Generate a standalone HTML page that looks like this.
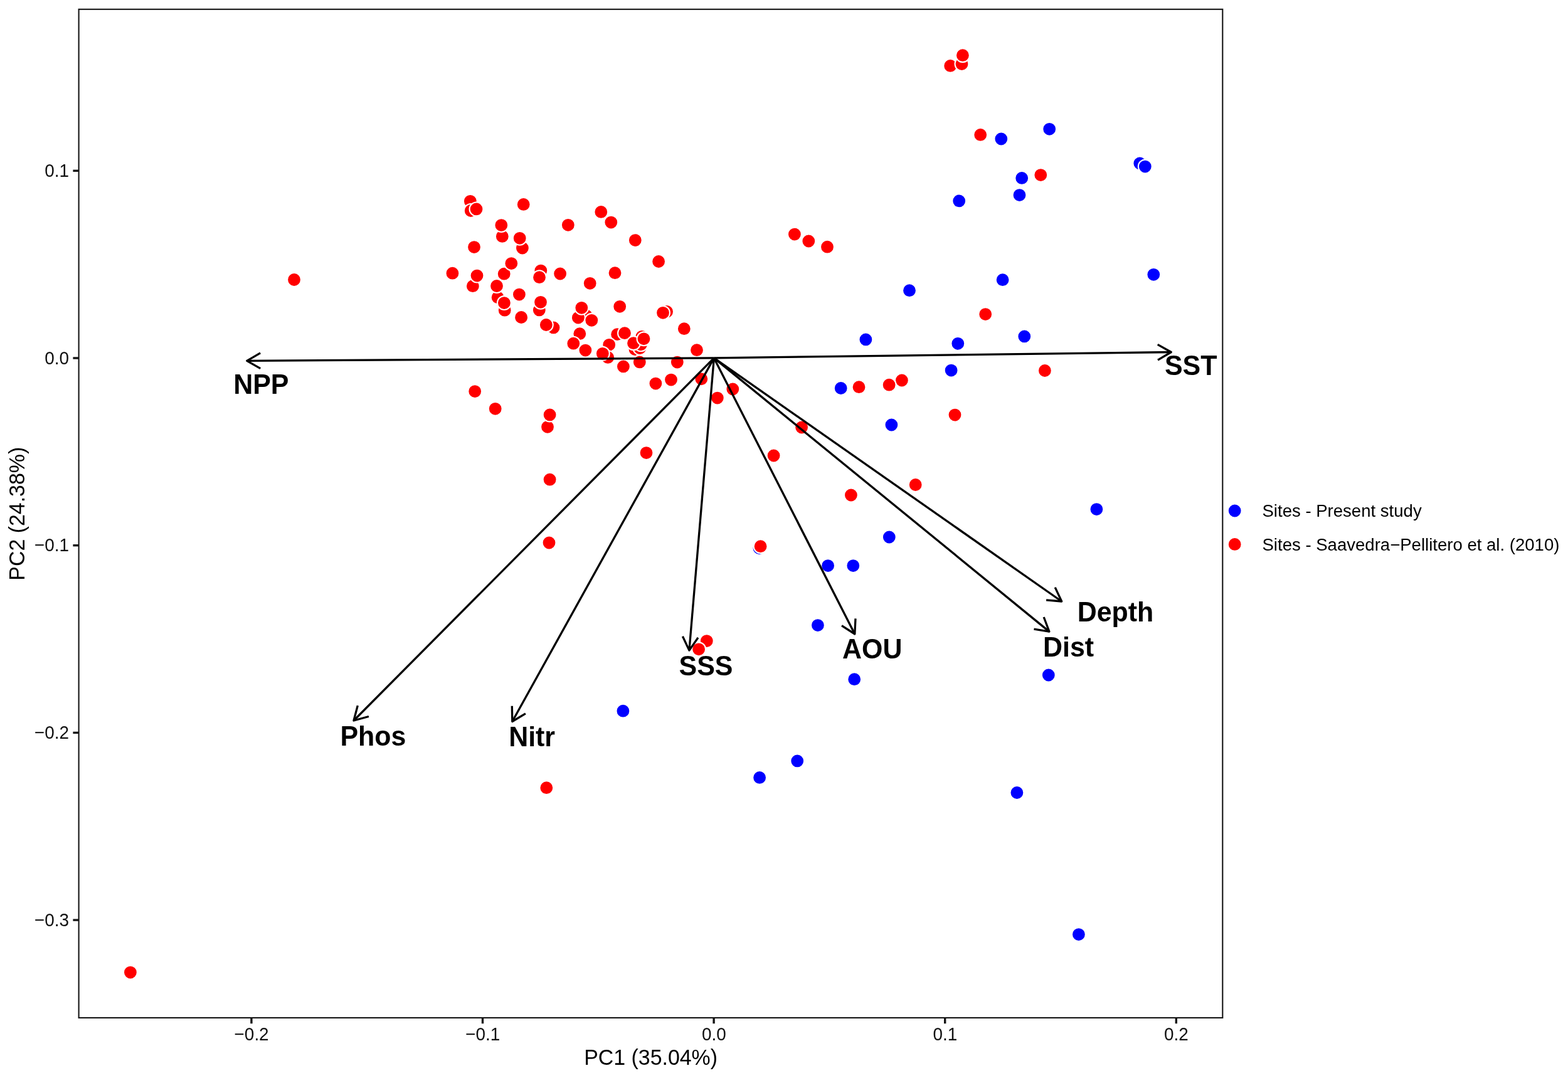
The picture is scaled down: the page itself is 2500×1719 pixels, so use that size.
<!DOCTYPE html>
<html lang="en"><head><meta charset="utf-8"><title>PCA biplot</title>
<style>
html,body{margin:0;padding:0;background:#fff;}
body{width:2500px;height:1719px;overflow:hidden;}
svg{display:block;font-family:"Liberation Sans",sans-serif;}
.tick{font-size:27.9px;fill:#111;}
.ttl{font-size:33.9px;fill:#000;}
.leg{font-size:27.55px;fill:#000;}
.lab{font-size:42.9px;font-weight:bold;fill:#000;}
.pt circle{stroke:#fff;stroke-width:2.1;}
.arr line,.arr polyline{stroke:#000;stroke-width:3.3;fill:none;stroke-linejoin:round;stroke-linecap:butt;}
</style></head><body>
<svg width="2500" height="1719" viewBox="0 0 2500 1719">
<rect x="0" y="0" width="2500" height="1719" fill="#fff"/>

<g class="pt">
<circle cx="1210.5" cy="874.1" r="10.95" fill="#0000FF"/>
<circle cx="749.8" cy="320.8" r="10.95" fill="#FF0000"/>
<circle cx="750.7" cy="336.0" r="10.95" fill="#FF0000"/>
<circle cx="759.5" cy="333.4" r="10.95" fill="#FF0000"/>
<circle cx="834.7" cy="325.9" r="10.95" fill="#FF0000"/>
<circle cx="800.8" cy="376.9" r="10.95" fill="#FF0000"/>
<circle cx="799.3" cy="359.1" r="10.95" fill="#FF0000"/>
<circle cx="832.9" cy="395.5" r="10.95" fill="#FF0000"/>
<circle cx="828.7" cy="379.8" r="10.95" fill="#FF0000"/>
<circle cx="905.8" cy="358.8" r="10.95" fill="#FF0000"/>
<circle cx="756.0" cy="394.1" r="10.95" fill="#FF0000"/>
<circle cx="803.7" cy="436.7" r="10.95" fill="#FF0000"/>
<circle cx="815.3" cy="420.1" r="10.95" fill="#FF0000"/>
<circle cx="721.4" cy="435.7" r="10.95" fill="#FF0000"/>
<circle cx="753.8" cy="456.2" r="10.95" fill="#FF0000"/>
<circle cx="760.5" cy="439.6" r="10.95" fill="#FF0000"/>
<circle cx="862.3" cy="431.6" r="10.95" fill="#FF0000"/>
<circle cx="860.0" cy="442.2" r="10.95" fill="#FF0000"/>
<circle cx="893.1" cy="436.5" r="10.95" fill="#FF0000"/>
<circle cx="793.6" cy="474.3" r="10.95" fill="#FF0000"/>
<circle cx="804.7" cy="494.7" r="10.95" fill="#FF0000"/>
<circle cx="792.0" cy="456.0" r="10.95" fill="#FF0000"/>
<circle cx="803.9" cy="483.1" r="10.95" fill="#FF0000"/>
<circle cx="827.9" cy="469.6" r="10.95" fill="#FF0000"/>
<circle cx="831.1" cy="506.0" r="10.95" fill="#FF0000"/>
<circle cx="859.8" cy="494.4" r="10.95" fill="#FF0000"/>
<circle cx="862.0" cy="481.8" r="10.95" fill="#FF0000"/>
<circle cx="882.5" cy="522.4" r="10.95" fill="#FF0000"/>
<circle cx="870.8" cy="518.0" r="10.95" fill="#FF0000"/>
<circle cx="940.7" cy="451.8" r="10.95" fill="#FF0000"/>
<circle cx="934.8" cy="503.4" r="10.95" fill="#FF0000"/>
<circle cx="921.9" cy="506.6" r="10.95" fill="#FF0000"/>
<circle cx="927.3" cy="490.8" r="10.95" fill="#FF0000"/>
<circle cx="943.3" cy="510.8" r="10.95" fill="#FF0000"/>
<circle cx="924.3" cy="532.2" r="10.95" fill="#FF0000"/>
<circle cx="914.3" cy="547.7" r="10.95" fill="#FF0000"/>
<circle cx="933.4" cy="558.6" r="10.95" fill="#FF0000"/>
<circle cx="980.5" cy="435.2" r="10.95" fill="#FF0000"/>
<circle cx="1050.1" cy="417.0" r="10.95" fill="#FF0000"/>
<circle cx="988.2" cy="488.8" r="10.95" fill="#FF0000"/>
<circle cx="1063.1" cy="497.0" r="10.95" fill="#FF0000"/>
<circle cx="1057.0" cy="498.8" r="10.95" fill="#FF0000"/>
<circle cx="1090.8" cy="524.2" r="10.95" fill="#FF0000"/>
<circle cx="1111.0" cy="558.2" r="10.95" fill="#FF0000"/>
<circle cx="984.1" cy="533.2" r="10.95" fill="#FF0000"/>
<circle cx="996.0" cy="531.2" r="10.95" fill="#FF0000"/>
<circle cx="971.2" cy="549.8" r="10.95" fill="#FF0000"/>
<circle cx="969.2" cy="569.9" r="10.95" fill="#FF0000"/>
<circle cx="960.8" cy="563.8" r="10.95" fill="#FF0000"/>
<circle cx="1023.4" cy="536.8" r="10.95" fill="#FF0000"/>
<circle cx="1012.5" cy="557.0" r="10.95" fill="#FF0000"/>
<circle cx="1020.3" cy="555.0" r="10.95" fill="#FF0000"/>
<circle cx="1021.9" cy="549.3" r="10.95" fill="#FF0000"/>
<circle cx="1010.0" cy="547.2" r="10.95" fill="#FF0000"/>
<circle cx="1026.5" cy="540.3" r="10.95" fill="#FF0000"/>
<circle cx="1019.8" cy="577.4" r="10.95" fill="#FF0000"/>
<circle cx="993.9" cy="584.4" r="10.95" fill="#FF0000"/>
<circle cx="1079.8" cy="577.6" r="10.95" fill="#FF0000"/>
<circle cx="958.3" cy="337.9" r="10.95" fill="#FF0000"/>
<circle cx="974.3" cy="354.6" r="10.95" fill="#FF0000"/>
<circle cx="1012.8" cy="383.1" r="10.95" fill="#FF0000"/>
<circle cx="757.2" cy="624.1" r="10.95" fill="#FF0000"/>
<circle cx="789.7" cy="651.8" r="10.95" fill="#FF0000"/>
<circle cx="873.0" cy="680.8" r="10.95" fill="#FF0000"/>
<circle cx="876.6" cy="661.4" r="10.95" fill="#FF0000"/>
<circle cx="876.6" cy="764.7" r="10.95" fill="#FF0000"/>
<circle cx="1030.5" cy="722.1" r="10.95" fill="#FF0000"/>
<circle cx="1045.4" cy="611.6" r="10.95" fill="#FF0000"/>
<circle cx="1070.0" cy="605.6" r="10.95" fill="#FF0000"/>
<circle cx="1118.3" cy="604.3" r="10.95" fill="#FF0000"/>
<circle cx="1515.2" cy="104.9" r="10.95" fill="#FF0000"/>
<circle cx="1533.5" cy="102.1" r="10.95" fill="#FF0000"/>
<circle cx="1534.9" cy="88.2" r="10.95" fill="#FF0000"/>
<circle cx="1563.2" cy="214.9" r="10.95" fill="#FF0000"/>
<circle cx="1659.3" cy="279.1" r="10.95" fill="#FF0000"/>
<circle cx="1571.2" cy="501.1" r="10.95" fill="#FF0000"/>
<circle cx="1665.9" cy="591.0" r="10.95" fill="#FF0000"/>
<circle cx="1437.9" cy="606.5" r="10.95" fill="#FF0000"/>
<circle cx="1417.6" cy="613.7" r="10.95" fill="#FF0000"/>
<circle cx="1522.5" cy="661.6" r="10.95" fill="#FF0000"/>
<circle cx="1266.9" cy="373.6" r="10.95" fill="#FF0000"/>
<circle cx="1289.3" cy="384.5" r="10.95" fill="#FF0000"/>
<circle cx="1319.0" cy="393.7" r="10.95" fill="#FF0000"/>
<circle cx="1369.5" cy="617.2" r="10.95" fill="#FF0000"/>
<circle cx="1168.3" cy="620.4" r="10.95" fill="#FF0000"/>
<circle cx="1143.8" cy="634.6" r="10.95" fill="#FF0000"/>
<circle cx="1278.1" cy="681.5" r="10.95" fill="#FF0000"/>
<circle cx="1233.6" cy="726.5" r="10.95" fill="#FF0000"/>
<circle cx="1459.7" cy="773.0" r="10.95" fill="#FF0000"/>
<circle cx="1356.9" cy="789.5" r="10.95" fill="#FF0000"/>
<circle cx="1212.6" cy="871.2" r="10.95" fill="#FF0000"/>
<circle cx="1126.8" cy="1022.1" r="10.95" fill="#FF0000"/>
<circle cx="1114.1" cy="1035.3" r="10.95" fill="#FF0000"/>
<circle cx="875.5" cy="865.5" r="10.95" fill="#FF0000"/>
<circle cx="871.3" cy="1256.2" r="10.95" fill="#FF0000"/>
<circle cx="469.0" cy="446.0" r="10.95" fill="#FF0000"/>
<circle cx="207.9" cy="1550.6" r="10.95" fill="#FF0000"/>
<circle cx="1596.3" cy="221.5" r="10.95" fill="#0000FF"/>
<circle cx="1673.2" cy="205.8" r="10.95" fill="#0000FF"/>
<circle cx="1817.3" cy="260.4" r="10.95" fill="#0000FF"/>
<circle cx="1825.8" cy="265.6" r="10.95" fill="#0000FF"/>
<circle cx="1629.2" cy="283.9" r="10.95" fill="#0000FF"/>
<circle cx="1625.5" cy="311.1" r="10.95" fill="#0000FF"/>
<circle cx="1529.2" cy="320.4" r="10.95" fill="#0000FF"/>
<circle cx="1450.0" cy="463.2" r="10.95" fill="#0000FF"/>
<circle cx="1598.6" cy="446.2" r="10.95" fill="#0000FF"/>
<circle cx="1839.3" cy="437.8" r="10.95" fill="#0000FF"/>
<circle cx="1633.3" cy="536.4" r="10.95" fill="#0000FF"/>
<circle cx="1526.4" cy="547.4" r="10.95" fill="#0000FF"/>
<circle cx="1527.3" cy="547.8" r="10.95" fill="#0000FF"/>
<circle cx="1516.6" cy="590.6" r="10.95" fill="#0000FF"/>
<circle cx="1421.4" cy="677.5" r="10.95" fill="#0000FF"/>
<circle cx="1380.4" cy="541.4" r="10.95" fill="#0000FF"/>
<circle cx="1340.7" cy="619.0" r="10.95" fill="#0000FF"/>
<circle cx="1417.8" cy="856.5" r="10.95" fill="#0000FF"/>
<circle cx="1320.1" cy="902.1" r="10.95" fill="#0000FF"/>
<circle cx="1360.3" cy="902.1" r="10.95" fill="#0000FF"/>
<circle cx="1303.9" cy="997.1" r="10.95" fill="#0000FF"/>
<circle cx="1748.4" cy="812.1" r="10.95" fill="#0000FF"/>
<circle cx="1362.2" cy="1083.2" r="10.95" fill="#0000FF"/>
<circle cx="1271.2" cy="1213.4" r="10.95" fill="#0000FF"/>
<circle cx="1211.1" cy="1239.9" r="10.95" fill="#0000FF"/>
<circle cx="1621.4" cy="1264.0" r="10.95" fill="#0000FF"/>
<circle cx="1671.8" cy="1076.5" r="10.95" fill="#0000FF"/>
<circle cx="1719.9" cy="1490.1" r="10.95" fill="#0000FF"/>
<circle cx="993.4" cy="1133.7" r="10.95" fill="#0000FF"/>
</g>
<g class="arr"><line x1="1138.4" y1="570.9" x2="393.7" y2="575.4"/><polyline points="415.2,587.6 393.7,575.4 415.1,562.9"/><line x1="1138.4" y1="570.9" x2="1867.3" y2="561.5"/><polyline points="1845.7,549.4 1867.3,561.5 1846.0,574.1"/><line x1="1138.4" y1="570.9" x2="564.0" y2="1149.0"/><polyline points="587.9,1142.5 564.0,1149.0 570.3,1125.1"/><line x1="1138.4" y1="570.9" x2="816.8" y2="1150.5"/><polyline points="837.9,1137.8 816.8,1150.5 816.3,1125.8"/><line x1="1138.4" y1="570.9" x2="1098.9" y2="1037.1"/><polyline points="1113.0,1016.8 1098.9,1037.1 1088.4,1014.7"/><line x1="1138.4" y1="570.9" x2="1362.8" y2="1011.0"/><polyline points="1364.0,986.4 1362.8,1011.0 1342.0,997.6"/><line x1="1138.4" y1="570.9" x2="1672.9" y2="1007.1"/><polyline points="1664.2,984.0 1672.9,1007.1 1648.5,1003.2"/><line x1="1138.4" y1="570.9" x2="1692.7" y2="959.0"/><polyline points="1682.2,936.6 1692.7,959.0 1668.1,956.8"/></g>
<g class="lab">
<text transform="translate(372.3,628.3) scale(1,1.05)">NPP</text>
<text transform="translate(1857.0,598.1) scale(1,1.05)">SST</text>
<text transform="translate(542.4,1188.7) scale(1,1.03)">Phos</text>
<text transform="translate(811.2,1189.6) scale(1,1.03)">Nitr</text>
<text transform="translate(1082.6,1077.0) scale(1,1.05)">SSS</text>
<text transform="translate(1343.1,1050.3) scale(1,1.05)">AOU</text>
<text transform="translate(1663.1,1046.8) scale(1,1.03)">Dist</text>
<text transform="translate(1717.8,991.3) scale(1,1.03)">Depth</text>
</g>
<rect x="125.6" y="14.8" width="1823.7" height="1608.2" fill="none" stroke="#141414" stroke-width="2.1"/>
<g stroke="#141414" stroke-width="3.4">
<line x1="400.9" y1="1623.0" x2="400.9" y2="1632.2"/>
<line x1="769.5" y1="1623.0" x2="769.5" y2="1632.2"/>
<line x1="1138.1" y1="1623.0" x2="1138.1" y2="1632.2"/>
<line x1="1506.7" y1="1623.0" x2="1506.7" y2="1632.2"/>
<line x1="1875.3" y1="1623.0" x2="1875.3" y2="1632.2"/>
<line x1="116.4" y1="272.3" x2="125.6" y2="272.3"/>
<line x1="116.4" y1="571.0" x2="125.6" y2="571.0"/>
<line x1="116.4" y1="869.7" x2="125.6" y2="869.7"/>
<line x1="116.4" y1="1168.4" x2="125.6" y2="1168.4"/>
<line x1="116.4" y1="1467.1" x2="125.6" y2="1467.1"/>
</g>
<g class="tick">
<text transform="translate(401.1,1659.0) scale(1,1.04)" text-anchor="middle">−0.2</text>
<text transform="translate(769.7,1659.0) scale(1,1.04)" text-anchor="middle">−0.1</text>
<text transform="translate(1138.3,1659.0) scale(1,1.04)" text-anchor="middle">0.0</text>
<text transform="translate(1506.9,1659.0) scale(1,1.04)" text-anchor="middle">0.1</text>
<text transform="translate(1875.5,1659.0) scale(1,1.04)" text-anchor="middle">0.2</text>
<text transform="translate(110.1,281.9) scale(1,1.04)" text-anchor="end">0.1</text>
<text transform="translate(110.1,580.6) scale(1,1.04)" text-anchor="end">0.0</text>
<text transform="translate(110.1,879.3) scale(1,1.04)" text-anchor="end">−0.1</text>
<text transform="translate(110.1,1178.0) scale(1,1.04)" text-anchor="end">−0.2</text>
<text transform="translate(110.1,1476.7) scale(1,1.04)" text-anchor="end">−0.3</text>
</g>
<text class="ttl" transform="translate(1037.6,1697.5) scale(1,1.04)" text-anchor="middle">PC1 (35.04%)</text>
<text class="ttl" transform="translate(39.2,819.2) rotate(-90) scale(1,1.04)" text-anchor="middle">PC2 (24.38%)</text>
<g class="pt"><circle cx="1968.7" cy="814.5" r="10.95" fill="#0000FF"/><circle cx="1968.7" cy="867.9" r="10.95" fill="#FF0000"/></g>
<text class="leg" x="2012.5" y="824.2">Sites - Present study</text>
<text class="leg" x="2012.5" y="877.5">Sites - Saavedra−Pellitero et al. (2010)</text>
</svg></body></html>
